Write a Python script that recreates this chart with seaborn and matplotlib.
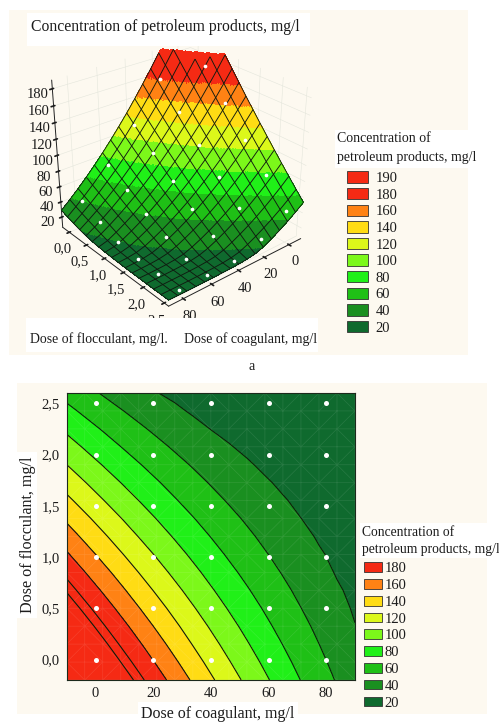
import numpy as np
import pandas as pd
import matplotlib
matplotlib.use('Agg')
import matplotlib.pyplot as plt
import seaborn as sns
from matplotlib.colors import ListedColormap, BoundaryNorm
from matplotlib.patches import Rectangle, Patch

# values, rows = flocculant, columns = coagulant
coagulant = [-10, -3.75, 2.5, 8.75, 15, 21.25, 27.5, 33.75, 40, 46.25, 52.5, 58.75, 65, 71.25, 77.5, 83.75, 90]
flocculant = [-0.2, -0.025, 0.15, 0.325, 0.5, 0.675, 0.85, 1.025, 1.2, 1.375, 1.55, 1.725, 1.9, 2.075, 2.25, 2.425, 2.6]
concentration = [
    [257.0, 238.1, 219.8, 202.1, 185.0, 168.6, 152.8, 137.6, 123.0, 109.1, 95.8, 83.1, 71.0, 59.6, 48.8, 38.6, 29.0],
    [242.9, 224.7, 207.0, 190.0, 173.7, 157.9, 142.8, 128.3, 114.4, 101.2, 88.6, 76.6, 65.2, 54.4, 44.3, 34.8, 25.9],
    [229.0, 211.4, 194.5, 178.2, 162.5, 147.5, 133.0, 119.2, 106.0, 93.5, 81.6, 70.2, 59.6, 49.5, 40.1, 31.3, 23.1],
    [215.3, 198.4, 182.2, 166.6, 151.6, 137.2, 123.5, 110.4, 97.9, 86.0, 74.8, 64.1, 54.1, 44.8, 36.0, 27.9, 20.4],
    [201.8, 185.6, 170.1, 155.1, 140.8, 127.2, 114.1, 101.7, 89.9, 78.7, 68.2, 58.2, 48.9, 40.2, 32.2, 24.8, 18.3],
    [188.4, 172.9, 158.1, 143.8, 130.2, 117.2, 104.9, 93.1, 82.0, 71.5, 61.7, 52.4, 43.8, 35.8, 28.5, 21.7, 16.7],
    [175.3, 160.5, 146.3, 132.8, 119.8, 107.5, 95.8, 84.8, 74.3, 64.5, 55.4, 46.8, 38.9, 31.6, 24.9, 18.9, 15.7],
    [162.3, 148.2, 134.7, 121.8, 109.6, 98.0, 87.0, 76.6, 66.9, 57.7, 49.3, 41.4, 34.1, 27.5, 21.5, 17.1, 15.1],
    [149.5, 136.1, 123.3, 111.1, 99.5, 88.6, 78.3, 68.6, 59.6, 51.2, 43.4, 36.2, 29.6, 23.7, 18.6, 15.9, 14.6],
    [136.9, 124.2, 112.1, 100.6, 89.7, 79.5, 69.9, 60.9, 52.5, 44.8, 37.7, 31.2, 25.3, 20.1, 16.7, 15.1, 14.3],
    [124.4, 112.4, 100.9, 90.1, 80.0, 70.4, 61.5, 53.2, 45.5, 38.5, 32.1, 26.3, 21.1, 17.3, 15.4, 14.5, 14.0],
    [112.2, 100.8, 90.1, 80.0, 70.5, 61.7, 53.4, 45.8, 38.8, 32.5, 26.8, 21.6, 17.7, 15.7, 14.7, 14.2, 13.9],
    [100.1, 89.4, 79.4, 70.0, 61.2, 53.0, 45.5, 38.6, 32.3, 26.6, 21.6, 17.6, 15.7, 14.7, 14.2, 13.9, 13.8],
    [88.2, 78.2, 68.9, 60.1, 52.0, 44.6, 37.7, 31.5, 25.9, 20.9, 17.3, 15.5, 14.6, 14.1, 13.9, 13.7, 13.7],
    [76.5, 67.2, 58.6, 50.5, 43.1, 36.3, 30.2, 24.6, 19.7, 16.6, 15.2, 14.4, 14.0, 13.8, 13.7, 13.6, 13.6],
    [65.0, 56.4, 48.4, 41.1, 34.4, 28.3, 22.8, 18.2, 15.9, 14.7, 14.1, 13.8, 13.6, 13.5, 13.5, 13.5, 13.6],
    [53.7, 45.8, 38.5, 31.9, 25.8, 20.4, 16.7, 15.1, 14.2, 13.9, 13.6, 13.4, 13.4, 13.3, 13.3, 13.4, 13.6],
]

# experiment points (white dots)
dot_coag = [0, 20, 40, 60, 80]
dot_floc = [0.0, 0.5, 1.0, 1.5, 2.0, 2.5]
dot_conc = [
    [212.0, 159.5, 113.0, 73.3, 39.8],
    [176.0, 129.8, 89.8, 56.2, 29.1],
    [141.7, 101.6, 67.9, 40.6, 19.7],
    [108.7, 74.9, 47.5, 26.6, 15.2],
    [77.2, 49.7, 28.6, 15.9, 13.9],
    [47.2, 26.0, 15.0, 13.6, 13.4],
]

levels = [-5, 20, 40, 60, 80, 100, 120, 140, 160, 180, 190, 300]
band_colors = ['#0f6a2e', '#1a8f20', '#1fc016', '#20f018', '#7cf81a', '#dcf81a',
               '#ffdc14', '#ff8214', '#f52a14', '#f52a14', '#f52a14']
labels_3d = ['190', '180', '160', '140', '120', '100', '80', '60', '40', '20']
labels_2d = ['180', '160', '140', '120', '100', '80', '60', '40', '20']
colors_3d = ['#f52a14', '#f52a14', '#ff8214', '#ffdc14', '#dcf81a', '#7cf81a', '#20f018', '#1fc016', '#1a8f20', '#0f6a2e']
colors_2d = colors_3d[1:]

W, H = 499, 722
CREAM = '#fdf9f0'
SERIF = 'Liberation Serif'
TXT = '#1c1c1c'

sns.set_theme(style='white')
plt.rcParams['font.family'] = [SERIF, 'DejaVu Sans']

fig = plt.figure(figsize=(W / 100, H / 100), dpi=100, facecolor='white')


def box(x0, y0, x1, y1, color, z=1):
    fig.add_artist(Rectangle((x0 / W, 1 - y1 / H), (x1 - x0) / W, (y1 - y0) / H, transform=fig.transFigure,
                             facecolor=color, edgecolor='none', zorder=z))


def label(x, y, s, size=10, **kw):
    kw.setdefault('va', 'center')
    fig.text(x / W, 1 - y / H, s, fontsize=size, color=TXT, zorder=5, **kw)


def axes_px(x0, y0, x1, y1, **kw):
    return fig.add_axes([x0 / W, 1 - y1 / H, (x1 - x0) / W, (y1 - y0) / H], **kw)


box(9, 10, 468, 355, CREAM, z=-2)
box(17, 383, 487, 714, CREAM, z=-2)

X, Y = np.meshgrid(coagulant, flocculant)
Z = np.array(concentration)
cmap = ListedColormap(band_colors)
norm = BoundaryNorm(levels, cmap.N)

# top: surface
ax3 = axes_px(19, 20, 334, 312, projection='3d')
ax3.patch.set_alpha(0)
ax3.computed_zorder = False
ax3.set_proj_type('persp', focal_length=0.55)
ax3.view_init(elev=28, azim=50)
ax3.set_box_aspect((1, 1, 0.95))

# finer facets so the colour bands do not follow the mesh
xf = np.linspace(-10, 90, 161)
yf = np.linspace(-0.2, 2.6, 161)
Zf = np.array([np.interp(xf, coagulant, row) for row in Z])
Zf = np.array([np.interp(yf, flocculant, col) for col in Zf.T]).T
Xf, Yf = np.meshgrid(xf, yf)
ax3.plot_surface(Xf, Yf, Zf, facecolors=cmap(norm(Zf)), rstride=1, cstride=1, shade=False,
                 linewidth=0, antialiased=False, axlim_clip=True, zorder=1)
ax3.plot_wireframe(X, Y, Z, rstride=1, cstride=1, color='#101a10', linewidth=0.65, axlim_clip=True, zorder=2)

DX, DY = np.meshgrid(dot_coag, dot_floc)
ax3.scatter(DX.ravel(), DY.ravel(), np.array(dot_conc).ravel(), color='white', s=7, depthshade=False,
            linewidth=0, axlim_clip=True, zorder=3)

ax3.set_xlim(-10, 90)
ax3.set_ylim(-0.2, 2.6)
ax3.set_zlim(6, 190)
ax3.set_xticks(dot_coag)
ax3.set_yticks(dot_floc)
ax3.set_yticklabels(['0,0', '0,5', '1,0', '1,5', '2,0', '2,5'])
ax3.set_zticks(range(20, 181, 20))
ax3.tick_params(labelsize=10.5, colors=TXT, pad=-2.5, length=0)
ax3.tick_params(axis='z', pad=-1.5)
for a in (ax3.xaxis, ax3.yaxis, ax3.zaxis):
    a.set_pane_color(CREAM)
    a._axinfo['grid'].update(color='#e4e6dc', linewidth=0.4)
    a.line.set_color('#222222')
    a.line.set_linewidth(0.7)

# bottom: contour map
ax2 = axes_px(66.7, 393, 355, 680)
ax2.contourf(X, Y, Z, levels=levels, colors=band_colors)
ax2.contour(X, Y, Z, levels=levels[1:-1], colors='#0c1c0c', linewidths=0.8)
ax2.triplot(X.ravel(), Y.ravel(), color='white', alpha=0.1, linewidth=0.5)
dots = pd.DataFrame({'coagulant': DX.ravel(), 'flocculant': DY.ravel()})
sns.scatterplot(data=dots, x='coagulant', y='flocculant', color='white', s=13, linewidth=0, ax=ax2, zorder=4)
ax2.set_xlim(-10, 90)
ax2.set_ylim(-0.2, 2.6)
ax2.set_xticks(dot_coag)
ax2.set_yticks(dot_floc)
ax2.set_yticklabels(['0,0', '0,5', '1,0', '1,5', '2,0', '2,5'])
ax2.tick_params(labelsize=10.5, colors=TXT, length=0, pad=5)
ax2.set_xlabel('')
ax2.set_ylabel('')
for s in ax2.spines.values():
    s.set_visible(True)
    s.set_color('#1c2a1c')
    s.set_linewidth(0.8)

# white strips the texts sit on
box(27, 13, 310, 46, 'white')
box(26, 318, 318, 352, 'white')
box(335, 130, 478, 168, 'white')
box(138, 702, 298, 722, 'white')
box(17, 452, 37, 618, 'white')
box(360, 523, 499, 558, 'white')

label(31, 27, 'Concentration of petroleum products, mg/l', size=11.3)
label(30, 339, 'Dose of flocculant, mg/l.', size=9.9)
label(184, 339, 'Dose of coagulant, mg/l', size=10)
label(252, 366, 'a', ha='center', size=10)
label(337, 139, 'Concentration of', size=10)
label(337, 158, 'petroleum products, mg/l', size=10)
label(218, 714, 'Dose of coagulant, mg/l', ha='center', size=11.5)
label(28, 535, 'Dose of flocculant, mg/l', rotation=90, ha='center', size=11.6)
label(362, 532, 'Concentration of', size=9.8)
label(362, 550, 'petroleum products, mg/l', size=9.8)

fig.legend(handles=[Patch(facecolor=c, edgecolor='#333333', linewidth=0.6) for c in colors_3d], labels=labels_3d,
           loc='upper left', bbox_to_anchor=(337 / W, 1 - 161 / H), frameon=False, fontsize=10.5,
           handlelength=1.45, handleheight=0.82, labelspacing=0.2, handletextpad=0.5, borderpad=0.2, labelcolor=TXT)
fig.legend(handles=[Patch(facecolor=c, edgecolor='#333333', linewidth=0.6) for c in colors_2d], labels=labels_2d,
           loc='upper left', bbox_to_anchor=(354 / W, 1 - 552 / H), frameon=False, fontsize=10.5,
           handlelength=1.25, handleheight=0.65, labelspacing=0.26, handletextpad=0.15, borderpad=0.2, labelcolor=TXT)

fig.savefig('out.png', dpi=100)
